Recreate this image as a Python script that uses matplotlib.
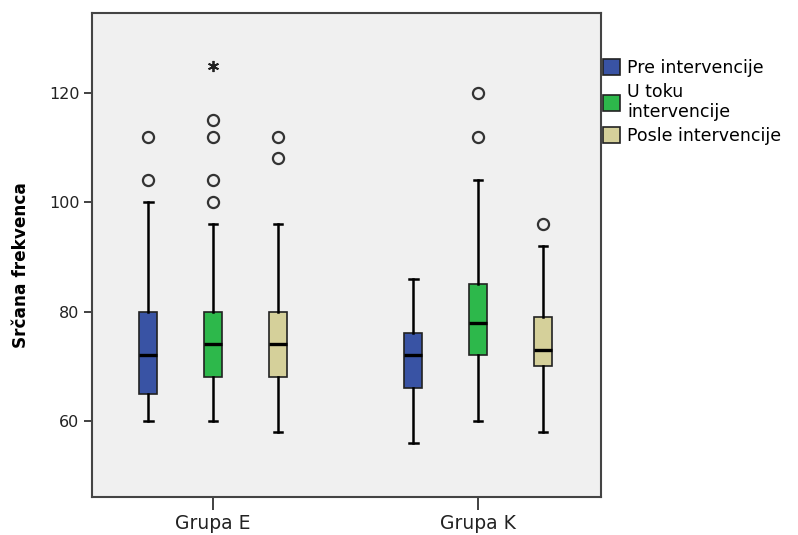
import matplotlib
matplotlib.use("Agg")
import matplotlib.pyplot as plt
from matplotlib.patches import Patch

plt.rcParams['font.family'] = ['DejaVu Sans']

# podaci (procena sa slike)
grupe = ['Grupa E', 'Grupa K']
serije = ['Pre intervencije', 'U toku\nintervencije', 'Posle intervencije']
boje = ['#3953a4', '#2db84b', '#d5d09a']

# po grupi, po seriji: donji brk, Q1, medijana, Q3, gornji brk
donji = [[60, 60, 58], [56, 60, 58]]
q1 = [[65, 68, 68], [66, 72, 70]]
medijana = [[72, 74, 74], [72, 78, 73]]
q3 = [[80, 80, 80], [76, 85, 79]]
gornji = [[100, 96, 96], [86, 104, 92]]
outlieri = [[[104, 112], [100, 104, 112, 115], [108, 112]],
            [[], [112, 120], [96]]]
ekstremi = [[[], [125], []], [[], [], []]]

fig = plt.figure(figsize=(7.98, 5.35), dpi=100)
ax = fig.add_axes([92/798, 1-497/535, (601-92)/798, (497-13)/535])
ax.set_facecolor('#f0f0f0')

pomak = 0.245
sirina = 0.066
for g in range(len(grupe)):
    for s in range(len(serije)):
        pos = g + 1 + (s - 1) * pomak
        stat = [{'whislo': donji[g][s], 'q1': q1[g][s], 'med': medijana[g][s],
                 'q3': q3[g][s], 'whishi': gornji[g][s], 'fliers': outlieri[g][s]}]
        ax.bxp(stat, positions=[pos], widths=sirina, patch_artist=True,
               capwidths=sirina * 0.5,
               boxprops=dict(facecolor=boje[s], edgecolor='#222222', linewidth=1.2),
               medianprops=dict(color='black', linewidth=2.4),
               whiskerprops=dict(color='black', linewidth=1.8),
               capprops=dict(color='black', linewidth=1.8),
               flierprops=dict(marker='o', markersize=8, markerfacecolor='none',
                               markeredgecolor='#333333', markeredgewidth=1.6),
               manage_ticks=False)
        if ekstremi[g][s]:
            # ekstremne vrednosti kao zvezdica (asterisk)
            ax.plot([pos] * len(ekstremi[g][s]), ekstremi[g][s], linestyle='none',
                    marker=(6, 2, 0), markersize=8, markeredgewidth=1.3,
                    color='#222222')

ax.set_xlim(0.543, 2.464)
ax.set_ylim(46.1, 134.6)
ax.set_xticks([1, 2])
ax.set_xticklabels(grupe, fontsize=13.5, color='#222222')
ax.set_yticks([60, 80, 100, 120])
ax.tick_params(axis='y', labelsize=11.5, labelcolor='#222222', length=6, width=1.3,
               color='#333333', pad=3)
ax.tick_params(axis='x', length=9, width=1.3, color='#333333', pad=3)
for sp in ax.spines.values():
    sp.set_color('#444444')
    sp.set_linewidth(1.5)
ax.set_ylabel('Srčana frekvenca', fontsize=12.2, fontweight='bold')
ax.yaxis.set_label_coords(-0.122, 0.479)

rucke = [Patch(facecolor=boje[i], edgecolor='#222222', linewidth=1.2, label=serije[i])
         for i in range(len(serije))]
ax.legend(handles=rucke, loc='upper left', bbox_to_anchor=(1.0, 0.909), frameon=False,
          fontsize=12.5, handlelength=1.0, handleheight=1.0, handletextpad=0.4,
          labelspacing=0.33, borderaxespad=0.0, borderpad=0.1)

fig.savefig('out.png', dpi=100)
